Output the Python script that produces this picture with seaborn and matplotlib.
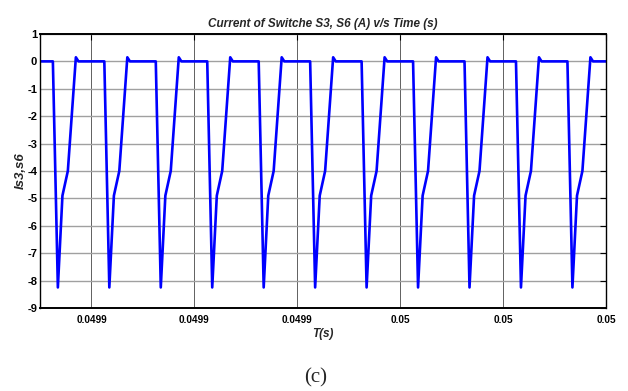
import numpy as np
import pandas as pd
import matplotlib
matplotlib.use("Agg")
import matplotlib.pyplot as plt
import seaborn as sns

# Switch current waveform: one switching cycle (offset in microseconds, current in A)
cycle_offset_us = [0.0, 0.97, 1.86, 2.91, 4.47, 4.97]
cycle_current = [0.0, -8.25, -4.9, -4.0, 0.15, 0.0]

# Instants at which each conduction pulse begins (s)
pulse_start = [0.0498925, 0.0499025, 0.0499125, 0.0499225, 0.0499325, 0.0499425,
               0.0499525, 0.0499625, 0.0499725, 0.0499825, 0.0499925]

t_begin, t_end = 0.04989, 0.05000

x_ticks = [0.04990, 0.04992, 0.04994, 0.04996, 0.04998, 0.05000]
x_tick_labels = ["0.0499", "0.0499", "0.0499", "0.05", "0.05", "0.05"]
y_ticks = [1, 0, -1, -2, -3, -4, -5, -6, -7, -8, -9]

times = [t_begin]
currents = [0.0]
for ts in pulse_start:
    for off, cur in zip(cycle_offset_us, cycle_current):
        times.append(ts + off * 1e-6)
        currents.append(cur)
times.append(t_end)
currents.append(0.0)
df = pd.DataFrame({"t": times, "i": currents})

sns.set_style("white")
plt.rcParams["font.family"] = ["Liberation Sans", "DejaVu Sans"]

fig = plt.figure(figsize=(6.28, 3.91), dpi=100)
ax = fig.add_axes([0.0637, 0.2123, 0.9013, 0.7008])

sns.lineplot(data=df, x="t", y="i", ax=ax, color="#0000FF", linewidth=1.9,
             sort=False, estimator=None)

ax.set_xlim(t_begin, t_end)
ax.set_ylim(-9, 1)
ax.set_xticks(x_ticks)
ax.set_xticklabels(x_tick_labels, fontsize=7.2, fontweight="bold")
ax.set_yticks(y_ticks)
ax.set_yticklabels([str(v) for v in y_ticks], fontsize=8, fontweight="bold")

ax.grid(axis="y", color="#a0a0a0", linewidth=1.0)
ax.grid(axis="x", color="#606060", linewidth=0.7)
ax.set_axisbelow(True)

ax.tick_params(direction="in", length=4, width=0.8, top=True, right=True,
               colors="black")
ax.tick_params(axis="x", pad=5)
ax.tick_params(axis="y", pad=2)
for side in ax.spines.values():
    side.set_color("black")
    side.set_linewidth(1.0)
ax.spines["bottom"].set_linewidth(1.4)
ax.spines["top"].set_linewidth(1.4)

ax.set_title("Current of Switche S3, S6 (A) v/s Time (s)", fontsize=8.5,
             fontweight="bold", fontstyle="italic", pad=5)
ax.set_xlabel("T(s)", fontsize=8.5, fontweight="bold", fontstyle="italic", labelpad=2)
ax.set_ylabel("Is3,s6", fontsize=9.5, fontweight="bold", fontstyle="italic", labelpad=0)

fig.text(316 / 628, 1 - 378 / 391, "(c)", fontsize=15,
         family=["Liberation Serif", "DejaVu Serif"], ha="center", va="center")

fig.savefig("out.png", dpi=100, facecolor="white")
